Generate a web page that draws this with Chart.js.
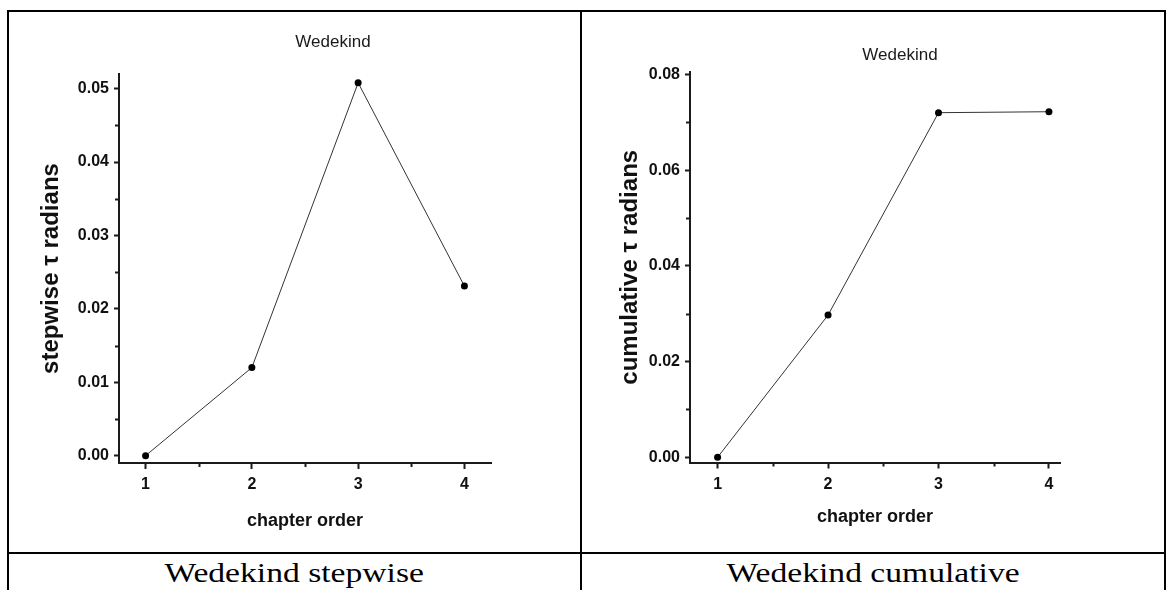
<!DOCTYPE html>
<html>
<head>
<meta charset="utf-8">
<script src="https://cdn.jsdelivr.net/npm/chart.js@4.4.1/dist/chart.umd.min.js"></script>
<style>
  html, body { margin:0; padding:0; background:#fff; width:1171px; height:590px; overflow:hidden; }
  .frame { position:absolute; left:7px; top:10px; width:1155px; height:600px; border:2px solid #000; }
  .vline { position:absolute; left:580px; top:10px; width:2px; height:600px; background:#000; }
  .hline { position:absolute; left:7px; top:552px; width:1159px; height:2px; background:#000; }
  canvas { position:absolute; }
  .cap { position:absolute; top:557px; height:32px; line-height:32px; text-align:center;
         font-family:"Liberation Serif","Times New Roman",serif; font-size:28px; color:#000; white-space:nowrap; }
  .cap span { display:inline-block; transform:scaleX(1.2); transform-origin:center; }
</style>
</head>
<body>
<div class="frame"></div>
<div class="vline"></div>
<div class="hline"></div>
<canvas id="c1" width="572" height="540" style="left:9px; top:12px;"></canvas>
<canvas id="c2" width="582" height="540" style="left:583px; top:12px;"></canvas>
<div class="cap" style="left:9px; width:571px;"><span>Wedekind stepwise</span></div>
<div class="cap" style="left:582px; width:582px;"><span>Wedekind cumulative</span></div>
<script>
// ---- data ----
const categories = [1, 2, 3, 4];
const stepwiseValues = [0, 0.012, 0.0508, 0.0231];
const cumulativeValues = [0, 0.0297, 0.0720, 0.0722];
const xTicks = [1, 2, 3, 4];
const xMinorTicks = [1.5, 2.5, 3.5];
const stepwiseYTicks = [0, 0.01, 0.02, 0.03, 0.04, 0.05];
const stepwiseYMinor = [0.005, 0.015, 0.025, 0.035, 0.045];
const cumulativeYTicks = [0, 0.02, 0.04, 0.06, 0.08];
const cumulativeYMinor = [0.01, 0.03, 0.05, 0.07];
const chartTitle = 'Wedekind';
const xAxisTitle = 'chapter order';
const stepwiseYTitle = 'stepwise \u03c4 radians';
const cumulativeYTitle = 'cumulative \u03c4 radians';

const SANS = '"Liberation Sans",Arial,sans-serif';
const INK = '#1a1a1a';

const panelTitle = {
  id: 'panelTitle',
  afterDraw(chart, args, o) {
    const ctx = chart.ctx;
    ctx.save();
    ctx.font = o.font;
    ctx.fillStyle = o.color;
    ctx.textAlign = 'center';
    ctx.textBaseline = 'middle';
    ctx.fillText(o.text, o.x, o.y);
    ctx.restore();
  }
};

const minorTicks = {
  id: 'minorTicks',
  afterDraw(chart, args, o) {
    const ctx = chart.ctx, xs = chart.scales.x, ys = chart.scales.y;
    ctx.save();
    ctx.strokeStyle = o.color;
    ctx.lineWidth = o.width;
    o.x.forEach(v => {
      const px = Math.round(xs.getPixelForValue(v)) + 0.5;
      ctx.beginPath(); ctx.moveTo(px, xs.top); ctx.lineTo(px, xs.top + 1 + o.len); ctx.stroke();
    });
    o.y.forEach(v => {
      const py = Math.round(ys.getPixelForValue(v)) + 0.5;
      ctx.beginPath(); ctx.moveTo(ys.right - 1, py); ctx.lineTo(ys.right - 1 - o.len, py); ctx.stroke();
    });
    ctx.restore();
  }
};

function makeChart(id, values, yTicks, yMinor, yTitle, g) {
  return new Chart(document.getElementById(id), {
    type: 'line',
    data: {
      datasets: [{
        data: categories.map((c, i) => ({ x: c, y: values[i] })),
        borderColor: '#333',
        borderWidth: 1,
        tension: 0,
        pointRadius: 3.5,
        pointBackgroundColor: '#000',
        pointBorderColor: '#000',
        pointBorderWidth: 0,
        fill: false
      }]
    },
    options: {
      responsive: false,
      animation: false,
      devicePixelRatio: 1,
      layout: { padding: g.pad },
      plugins: {
        legend: { display: false },
        tooltip: { enabled: false },
        title: { display: false },
        panelTitle: { text: chartTitle, x: g.titleX, y: g.titleY, font: '17px ' + SANS, color: INK },
        minorTicks: { x: xMinorTicks, y: yMinor, len: 3, width: 2, color: INK }
      },
      scales: {
        x: {
          type: 'linear',
          min: g.xMin, max: g.xMax,
          afterBuildTicks: s => { s.ticks = xTicks.map(v => ({ value: v })); },
          afterFit: s => { s.height = g.xH; },
          grid: { drawOnChartArea: false, drawTicks: true, tickLength: 6, tickWidth: 2, tickColor: INK },
          border: { display: true, color: INK, width: 2 },
          ticks: { color: '#111', font: { family: SANS, size: 16, weight: 'bold' }, padding: 6,
                   maxRotation: 0, autoSkip: false, callback: v => String(v) },
          title: { display: true, text: xAxisTitle, color: '#111',
                   font: { family: SANS, size: 18, weight: 'bold' }, padding: { top: 0, bottom: 0 } }
        },
        y: {
          type: 'linear',
          min: g.yMin, max: g.yMax,
          afterBuildTicks: s => { s.ticks = yTicks.map(v => ({ value: v })); },
          afterFit: s => { s.width = g.yW; },
          grid: { drawOnChartArea: false, drawTicks: true, tickLength: 5, tickWidth: 2, tickColor: INK },
          border: { display: true, color: INK, width: 2 },
          ticks: { color: '#111', font: { family: SANS, size: 16, weight: 'bold' }, padding: 5,
                   autoSkip: false, callback: v => Number(v).toFixed(2) },
          title: { display: true, text: yTitle, color: '#111',
                   font: { family: SANS, size: 24, weight: 'bold' }, padding: { top: g.yTitlePad, bottom: 0 } }
        }
      }
    },
    plugins: [panelTitle, minorTicks]
  });
}

makeChart('c1', stepwiseValues, stepwiseYTicks, stepwiseYMinor, stepwiseYTitle, {
  pad: { left: 0, top: 62, right: 90, bottom: 20 },
  xMin: 0.75, xMax: 4.25, yMin: -0.001, yMax: 0.052,
  xH: 69, yW: 110, yTitlePad: 27.5, titleX: 324, titleY: 30
});
makeChart('c2', cumulativeValues, cumulativeYTicks, cumulativeYMinor, cumulativeYTitle, {
  pad: { left: 0, top: 60, right: 105, bottom: 24 },
  xMin: 0.75, xMax: 4.1, yMin: -0.0011, yMax: 0.0805,
  xH: 65.5, yW: 107, yTitlePad: 33, titleX: 317, titleY: 43
});
</script>
</body>
</html>
